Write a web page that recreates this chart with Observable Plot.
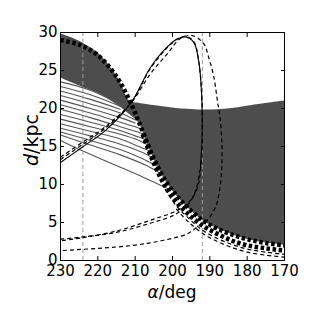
<!DOCTYPE html>
<html>
<head>
<meta charset="utf-8">
<script src="https://cdn.jsdelivr.net/npm/d3@7"></script>
<script src="https://cdn.jsdelivr.net/npm/@observablehq/plot@0.6"></script>
<style>
  html, body { margin: 0; padding: 0; background: #fff; }
  #chart { width: 316px; height: 316px; }
  svg { font-family: "DejaVu Sans", sans-serif; }
</style>
</head>
<body>
<div id="chart"></div>
<script>
// ---- data ----
const alphaTicks = [230, 220, 210, 200, 190, 180, 170];
const dTicks = [0, 5, 10, 15, 20, 25, 30];
const guideAlpha = [224, 192];

// dense gray band of model tracks (alpha, lower d, upper d)
const bandAlpha = [230, 227, 224, 220, 217, 214, 211.5, 209, 208, 205, 202, 199, 196, 192, 188, 184, 180, 176, 173, 170];
const bandLow   = [24.0, 23.4, 22.8, 22.0, 21.2, 20.2, 19.2, 18.1, 17.0, 13.4, 10.6, 8.6, 7.0, 5.3, 4.2, 3.4, 2.8, 2.4, 2.2, 2.0];
const bandHigh  = [29.8, 29.3, 28.6, 27.3, 25.7, 23.5, 21.0, 20.7, 20.6, 20.4, 20.2, 20.0, 19.9, 19.8, 19.85, 20.0, 20.3, 20.6, 20.8, 21.0];

// sparse gray tracks below the dense band: [alpha, d]
const sparse1  = [[230, 15.8], [224, 14.4], [216, 12.7], [208, 11.0], [201, 9.4]];
const sparse2  = [[230, 16.5], [222, 15.2], [214, 13.9], [207, 12.5], [203, 11.4]];
const sparse3  = [[230, 16.9], [222, 15.8], [214, 14.6], [208, 13.4], [204, 12.4]];
const sparse4  = [[230, 17.4], [222, 16.4], [214, 15.3], [208, 14.2], [205, 13.4]];
const sparse5  = [[230, 18.0], [222, 17.0], [214, 16.0], [209, 15.0], [206, 14.4]];
const sparse6  = [[230, 18.6], [222, 17.6], [214, 16.6], [209, 15.8], [206.5, 15.2]];
const sparse7  = [[230, 19.2], [222, 18.2], [214, 17.1], [210, 16.4], [207, 15.9]];
const sparse8  = [[230, 19.9], [222, 18.8], [214, 17.6], [210, 17.0], [207.5, 16.6]];
const sparse9  = [[230, 20.5], [222, 19.4], [214, 18.2], [210, 17.6], [208, 17.2]];
const sparse10 = [[230, 21.1], [222, 20.0], [214, 18.8], [210, 18.1]];
const sparse11 = [[230, 21.7], [222, 20.6], [214, 19.4], [210, 18.5]];
const sparse12 = [[230, 22.3], [222, 21.2], [214, 19.9]];
const sparse13 = [[230, 22.9], [222, 21.8], [214, 20.3]];
const sparse14 = [[230, 23.5], [222, 22.4], [214, 20.5]];

// thick dotted black tracks
const dotted1 = [[230, 29.0], [225, 28.4], [220, 27.0], [215, 24.2], [211, 20.5], [208, 17.0], [205, 13.4], [202, 10.6], [199, 8.6], [196, 7.0], [192, 5.3], [188, 4.2], [184, 3.4], [180, 2.8], [175, 2.3], [170, 2.0]];
const dotted2 = [[208, 16.6], [205, 12.8], [202, 9.8], [199, 7.7], [196, 6.2], [192, 4.6], [188, 3.5], [184, 2.6], [180, 2.0], [175, 1.6], [170, 1.3]];

// thin dashed tracks under the dotted band
const thin1 = [[202, 9.4], [199, 7.2], [196, 5.7], [192, 4.0], [188, 2.9], [184, 2.1], [180, 1.5], [175, 1.1], [170, 0.8]];
const thin2 = [[199, 6.8], [196, 5.2], [192, 3.6], [188, 2.5], [184, 1.7], [180, 1.1], [175, 0.7], [170, 0.45]];

// solid black loop (rising branch, peak and descent)
const solidA = [[230, 12.9], [224.2, 14.9], [218, 17.1], [211.3, 20.6], [205.9, 25.4], [201.4, 28.1], [198.5, 29.2], [196.5, 29.4], [194.3, 28.7], [193, 26.3], [192.2, 21.9], [192.05, 16.7], [192.5, 12.3]];
// dashed loops
const dashedA = [[230, 13.3], [224, 15.3], [218, 17.4], [211, 20.8], [206, 25.2], [201.4, 28.0], [198.5, 29.2], [196.5, 29.5], [194.3, 28.8], [193, 26.3], [192.2, 21.9], [192, 16.7], [192.4, 12.3], [193.3, 9.6], [195.2, 7.9], [198.7, 6.6], [205.9, 5.3], [214.8, 3.9], [224.1, 3.0], [230, 2.6]];
const dashedA2 = [[192.6, 12.0], [193.8, 9.2], [195.8, 7.4], [199.5, 6.0], [206, 4.9], [215, 3.7], [224, 3.1], [230, 2.8]];
const dashedB = [[230, 13.6], [224, 15.6], [218, 17.6], [211, 20.8], [206, 24.5], [201.4, 27.2], [197.9, 29.2], [194.7, 29.6], [191.6, 28.5], [190.3, 26.7], [188.9, 24.1], [188, 21.1], [187.3, 18.9], [186.8, 15.8], [186.8, 12.3], [187.4, 9.2], [188.5, 7.0], [190.7, 5.3], [193.4, 4.4], [196.1, 3.5], [203, 2.6], [210.4, 2.0], [220, 1.6], [230, 1.3]];

// ---- build tables ----
const band = bandAlpha.map((a, i) => ({a, lo: bandLow[i], hi: bandHigh[i]}));
const sparse = [sparse1, sparse2, sparse3, sparse4, sparse5, sparse6, sparse7, sparse8, sparse9, sparse10, sparse11, sparse12, sparse13, sparse14]
  .flatMap((s, k) => s.map(([a, d]) => ({a, d, k})));
const pts = s => s.map(([a, d]) => ({a, d}));

const gray = "#4d4d4d";
const dash = {stroke: "black", strokeWidth: 1.2, strokeDasharray: "4,3", strokeLinecap: "butt", curve: "catmull-rom"};
const dots = {stroke: "black", strokeWidth: 4.5, strokeDasharray: "3.5,2.5", strokeLinecap: "butt", curve: "catmull-rom"};

const chart = Plot.plot({
  width: 316,
  height: 316,
  marginLeft: 60,
  marginRight: 32,
  marginTop: 32,
  marginBottom: 56,
  style: {fontFamily: "DejaVu Sans, sans-serif", fontSize: "15px", background: "white"},
  x: {domain: [230, 170]},
  y: {domain: [0, 30]},
  marks: [
    Plot.areaY(band, {x: "a", y1: "lo", y2: "hi", fill: gray, curve: "catmull-rom"}),
    Plot.line(sparse, {x: "a", y: "d", z: "k", stroke: "#555", strokeWidth: 1.1, curve: "catmull-rom"}),
    Plot.ruleX(guideAlpha, {stroke: "#999", strokeWidth: 1, strokeDasharray: "4,3", strokeLinecap: "butt"}),
    Plot.line(pts(dashedB), {x: "a", y: "d", ...dash}),
    Plot.line(pts(dashedA), {x: "a", y: "d", ...dash}),
    Plot.line(pts(dashedA2), {x: "a", y: "d", ...dash}),
    Plot.line(pts(solidA), {x: "a", y: "d", stroke: "black", strokeWidth: 1.1, curve: "catmull-rom"}),
    Plot.line(pts(thin1), {x: "a", y: "d", ...dash}),
    Plot.line(pts(thin2), {x: "a", y: "d", ...dash}),
    Plot.line(pts(dotted2), {x: "a", y: "d", ...dots}),
    Plot.line(pts(dotted1), {x: "a", y: "d", ...dots}),
    Plot.frame({stroke: "black", strokeWidth: 1}),
    Plot.axisX(alphaTicks, {anchor: "bottom", tickSize: -4, tickPadding: 9, label: null, fontSize: 15}),
    Plot.axisX(alphaTicks, {anchor: "top", tickSize: -4, tickFormat: () => "", label: null}),
    Plot.axisY(dTicks, {anchor: "left", tickSize: -4, tickPadding: 7, label: null, fontSize: 15}),
    Plot.axisY(dTicks, {anchor: "right", tickSize: -4, tickFormat: () => "", label: null})
  ]
});
document.getElementById("chart").appendChild(chart);

// axis titles (mathtext-like italic symbols)
const svg = d3.select(chart);
const xl = svg.append("text")
  .attr("x", 172).attr("y", 298)
  .attr("text-anchor", "middle")
  .style("font-size", "17px").style("font-family", "DejaVu Sans, sans-serif");
xl.append("tspan").style("font-style", "italic").text("α");
xl.append("tspan").text("/deg");
const yl = svg.append("text")
  .attr("transform", "translate(38,140) rotate(-90)")
  .attr("text-anchor", "middle")
  .style("font-size", "19px").style("font-family", "DejaVu Sans, sans-serif");
yl.append("tspan").style("font-style", "italic").text("d");
yl.append("tspan").text("/kpc");
</script>
</body>
</html>
